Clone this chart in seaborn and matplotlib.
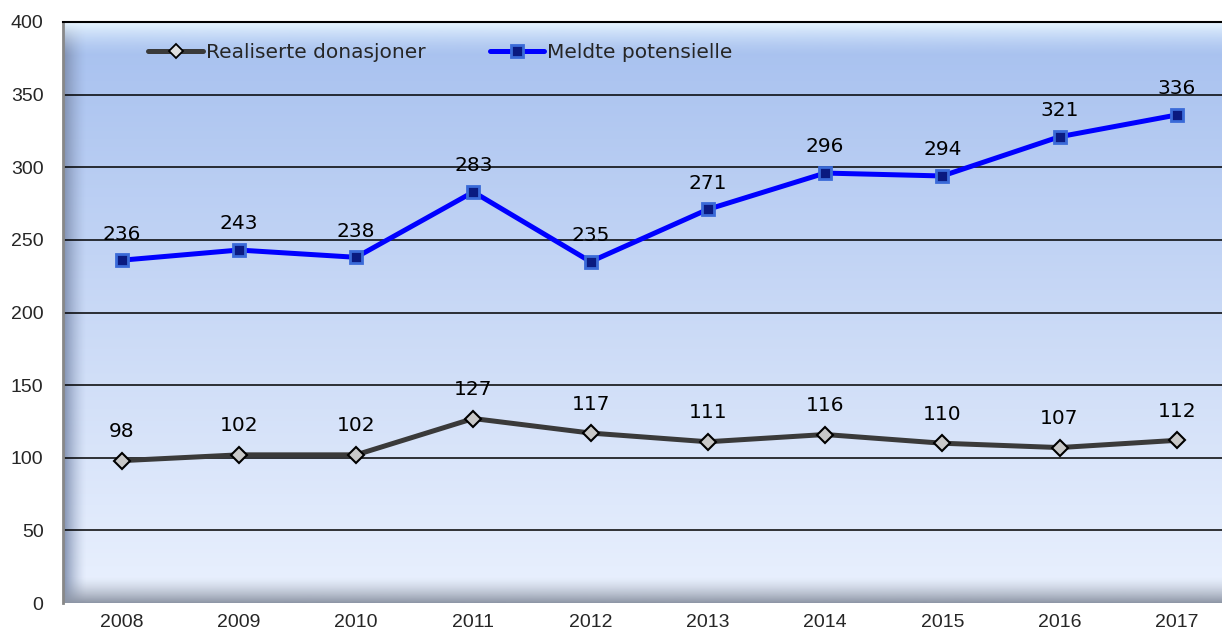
import numpy as np
import pandas as pd
import seaborn as sb
import matplotlib.pyplot as plt
from matplotlib.colors import LinearSegmentedColormap, to_rgb

years = ['2008', '2009', '2010', '2011', '2012', '2013', '2014', '2015', '2016', '2017']
realiserte = [98, 102, 102, 127, 117, 111, 116, 110, 107, 112]
meldte = [236, 243, 238, 283, 235, 271, 296, 294, 321, 336]
series_names = ['Realiserte donasjoner', 'Meldte potensielle']

df = pd.concat([
    pd.DataFrame({'pos': range(len(years)), 'value': realiserte, 'series': series_names[0]}),
    pd.DataFrame({'pos': range(len(years)), 'value': meldte, 'series': series_names[1]}),
])

sb.set_theme(style='white')
plt.rcParams['font.family'] = ['DejaVu Sans']

fig = plt.figure(figsize=(12.22, 6.36), dpi=100)
ax = fig.add_axes([63 / 1222, 33 / 636, 1159 / 1222, 581 / 636])


def fade(color, n, horizontal, reverse=False):
    # rgba strip: opaque colour fading to transparent
    a = np.linspace(1, 0, n) ** 1.5
    if reverse:
        a = a[::-1]
    img = np.zeros((1, n, 4)) if horizontal else np.zeros((n, 1, 4))
    img[..., :3] = to_rgb(color)
    if horizontal:
        img[0, :, 3] = a
    else:
        img[:, 0, 3] = a
    return img


# gradient background
grad = LinearSegmentedColormap.from_list('bg', ['#eaf1fe', '#c9d9f6', '#a6c0ef'])
ax.imshow(np.linspace(0, 1, 256).reshape(-1, 1), aspect='auto', cmap=grad,
          extent=[-0.5, 9.386, 0, 400], origin='lower', zorder=0)
# bevel: left wall, floor, top highlight
ax.imshow(fade('#7f8fb0', 64, True), aspect='auto',
          extent=[-0.5, -0.3, 0, 400], zorder=0.5)
ax.imshow(fade('#8d95a5', 64, False), aspect='auto', origin='lower',
          extent=[-0.5, 9.386, 0, 18], zorder=0.5)
ax.imshow(fade('#e8f6ff', 64, False, reverse=True), aspect='auto', origin='lower',
          extent=[-0.5, 9.386, 376, 400], zorder=0.5)

for y in range(50, 401, 50):
    ax.axhline(y, color='black', lw=1.1, zorder=1)

sb.lineplot(data=df, x='pos', y='value', hue='series', style='series',
            palette={series_names[0]: '#3a3a3a', series_names[1]: '#0000ff'},
            markers={series_names[0]: 'D', series_names[1]: 's'},
            dashes=False, linewidth=3.6, markersize=8, ax=ax, zorder=3,
            legend=False)
lines = ax.get_lines()
dark_line, blue_line = lines[-2], lines[-1]
dark_line.set_markerfacecolor('#c8c8c8')
dark_line.set_markeredgecolor('black')
dark_line.set_markeredgewidth(1.5)
dark_line.set_markersize(8)
blue_line.set_markerfacecolor('#0a1a80')
blue_line.set_markeredgecolor('#3a6ad8')
blue_line.set_markeredgewidth(2)
blue_line.set_markersize(9)

for i in range(len(years)):
    ax.annotate(str(realiserte[i]), (i, realiserte[i]), xytext=(0, 14),
                textcoords='offset points', ha='center', va='bottom', fontsize=14.5,
                color='black', zorder=4)
    ax.annotate(str(meldte[i]), (i, meldte[i]), xytext=(0, 12),
                textcoords='offset points', ha='center', va='bottom', fontsize=14.5,
                color='black', zorder=4)

ax.set_xlim(-0.5, 9.386)
ax.set_ylim(0, 400)
ax.set_xticks(range(len(years)))
ax.set_xticklabels(years, fontfamily='Liberation Sans', fontsize=14)
ax.set_yticks(range(0, 401, 50))
ax.set_yticklabels([str(v) for v in range(0, 401, 50)], fontfamily='Liberation Sans', fontsize=14)
ax.tick_params(axis='both', length=0, pad=8)
ax.tick_params(axis='y', pad=14)
ax.set_xlabel('')
ax.set_ylabel('')
for side in ['right', 'bottom']:
    ax.spines[side].set_visible(False)
ax.spines['top'].set_color('black')
ax.spines['top'].set_linewidth(1.5)
ax.spines['left'].set_color('#888888')
ax.spines['left'].set_linewidth(2)

handles = [
    plt.Line2D([], [], color='#3a3a3a', lw=3.6, marker='D', markersize=7,
               markerfacecolor='#e0e0e0', markeredgecolor='black', markeredgewidth=1.3),
    plt.Line2D([], [], color='#0000ff', lw=3.6, marker='s', markersize=8,
               markerfacecolor='#0a1a80', markeredgecolor='#3a6ad8', markeredgewidth=2),
]
ax.legend(handles, series_names, loc='upper left', bbox_to_anchor=(0.058, 0.995), ncol=2,
          frameon=False, fontsize=14.5, handlelength=2.7, handletextpad=0.15,
          columnspacing=3.2)

plt.savefig('out.png', dpi=100)
